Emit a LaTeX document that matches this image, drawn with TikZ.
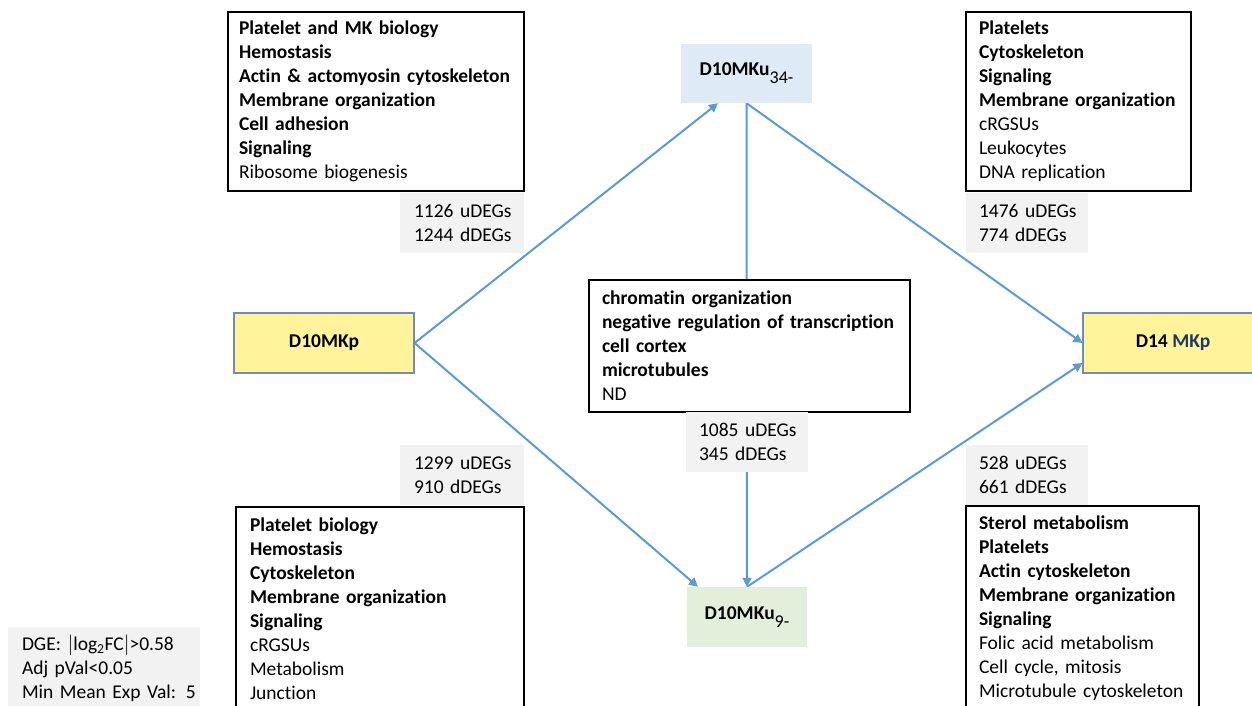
\documentclass[tikz,border=0pt]{standalone}
\usepackage{fontspec}
\setmainfont{Carlito}[Ligatures=NoCommon]
\usetikzlibrary{arrows.meta}
\definecolor{arrowblue}{HTML}{5B9BD5}
\definecolor{labelgray}{HTML}{F2F2F2}
\definecolor{yellowfill}{HTML}{FFF39B}
\definecolor{yellowborder}{HTML}{6F8DB3}
\definecolor{bluefill}{HTML}{DEEBF7}
\definecolor{greenfill}{HTML}{E2EFDA}
\definecolor{darkblue}{HTML}{1F3864}
\pgfdeclarelayer{bg}
\pgfsetlayers{bg,main}
\hbadness=10000 \hfuzz=200pt
\newcommand{\subx}[1]{\raisebox{-8pt}{\mdseries\fontsize{18}{18}\selectfont #1}}
\newcommand{\oneline}[1]{\mbox{#1}}
\begin{document}
\begin{tikzpicture}[x=1pt,y=-1pt,
  every node/.style={font=\fontsize{19.5}{24}\selectfont, inner sep=0pt},
  listbox/.style={draw=black, line width=1.1pt, fill=white, align=left},
  countbox/.style={fill=labelgray, align=left, minimum height=60pt, text width=96pt},
  yellowbox/.style={draw=yellowborder, line width=1.1pt, fill=yellowfill, minimum height=60pt, font=\fontsize{19.5}{24}\selectfont\bfseries},
  ubox/.style={minimum height=60pt, font=\fontsize{19.5}{24}\selectfont\bfseries},
  conn/.style={draw=arrowblue, line width=2pt, -{Triangle[length=9pt,width=9pt]}}]
\path[use as bounding box] (0,0) rectangle (1252,706);
\clip (0,0) rectangle (1252,706);

% main nodes
\node[yellowbox, minimum width=180pt] (p10) at (324,343) {D10MKp};
\node[yellowbox, minimum width=180pt] (p14) at (1173,343) {D14 \textcolor{darkblue}{MKp}};
\node[ubox, fill=bluefill, minimum width=131pt, minimum height=59pt] (u34) at (746.5,73.5) {D10MKu\subx{34-}};
\node[ubox, fill=greenfill, minimum width=120pt] (u9) at (747,617) {D10MKu\subx{9-}};

% list boxes
\node[listbox, minimum width=296pt, minimum height=179pt, text width=274pt] (tl) at (376,101.5) {%
\textbf{Platelet and MK biology}\\
\textbf{Hemostasis}\\
\textbf{Actin \& actomyosin cytoskeleton}\\
\textbf{Membrane organization}\\
\textbf{Cell adhesion}\\
\textbf{Signaling}\\
Ribosome biogenesis};

\node[listbox, minimum width=225pt, minimum height=179pt, text width=199pt] (tr) at (1078.5,101.5) {%
\textbf{Platelets}\\
\textbf{Cytoskeleton}\\
\textbf{Signaling}\\
\textbf{Membrane organization}\\
cRGSUs\\
Leukocytes\\
DNA replication};

\node[listbox, minimum width=321pt, minimum height=132pt, text width=295pt] (ctr) at (749.5,346) {%
\textbf{chromatin organization}\\
\textbf{negative regulation of transcription}\\
\textbf{cell cortex}\\
\textbf{microtubules}\\
ND};

\node[listbox, minimum width=288pt, minimum height=203pt, text width=260pt] (bl) at (380,608.5) {%
\textbf{Platelet biology}\\
\textbf{Hemostasis}\\
\textbf{Cytoskeleton}\\
\textbf{Membrane organization}\\
\textbf{Signaling}\\
cRGSUs\\
Metabolism\\
Junction};

\node[listbox, minimum width=233pt, minimum height=204pt, text width=207pt] (br) at (1082.5,608) {%
\textbf{Sterol metabolism}\\
\textbf{Platelets}\\
\textbf{Actin cytoskeleton}\\
\textbf{Membrane organization}\\
\textbf{Signaling}\\
Folic acid metabolism\\
Cell cycle, mitosis\\
Microtubule cytoskeleton};

% count labels
\node[countbox, minimum width=124pt] (ctl) at (462,223) {\oneline{1126 uDEGs}\\\oneline{1244 dDEGs}};
\node[countbox, minimum width=122pt] (ctr2) at (1027,223) {\oneline{1476 uDEGs}\\\oneline{774 dDEGs}};
\node[countbox, minimum width=122pt] (cc) at (747,442) {\oneline{1085 uDEGs}\\\oneline{345 dDEGs}};
\node[countbox, minimum width=124pt] (cbl) at (462,475) {\oneline{1299 uDEGs}\\\oneline{910 dDEGs}};
\node[countbox, minimum width=122pt] (cbr) at (1027,475) {\oneline{528 uDEGs}\\\oneline{661 dDEGs}};

% legend
\node[fill=labelgray, align=left, minimum width=192pt, minimum height=83pt, text width=164pt] (legend) at (104,668.5) {%
\oneline{DGE: \(|\)log\textsubscript{2}FC\(|\)>0.58}\\
\oneline{Adj pVal<0.05}\\
\oneline{Min Mean Exp Val: 5}};

% connectors
\begin{pgfonlayer}{bg}
\draw[conn] (p10.east) -- ([xshift=-28.5pt]u34.south);
\draw[conn] (u34.south) -- (p14.west);
\draw[conn] (u34.south) -- (u9.north);
\draw[conn] (p10.east) -- ([xshift=-49pt]u9.north);
\draw[conn] (u9.north) -- ([yshift=-20pt]p14.west);
\end{pgfonlayer}
\end{tikzpicture}
\end{document}
